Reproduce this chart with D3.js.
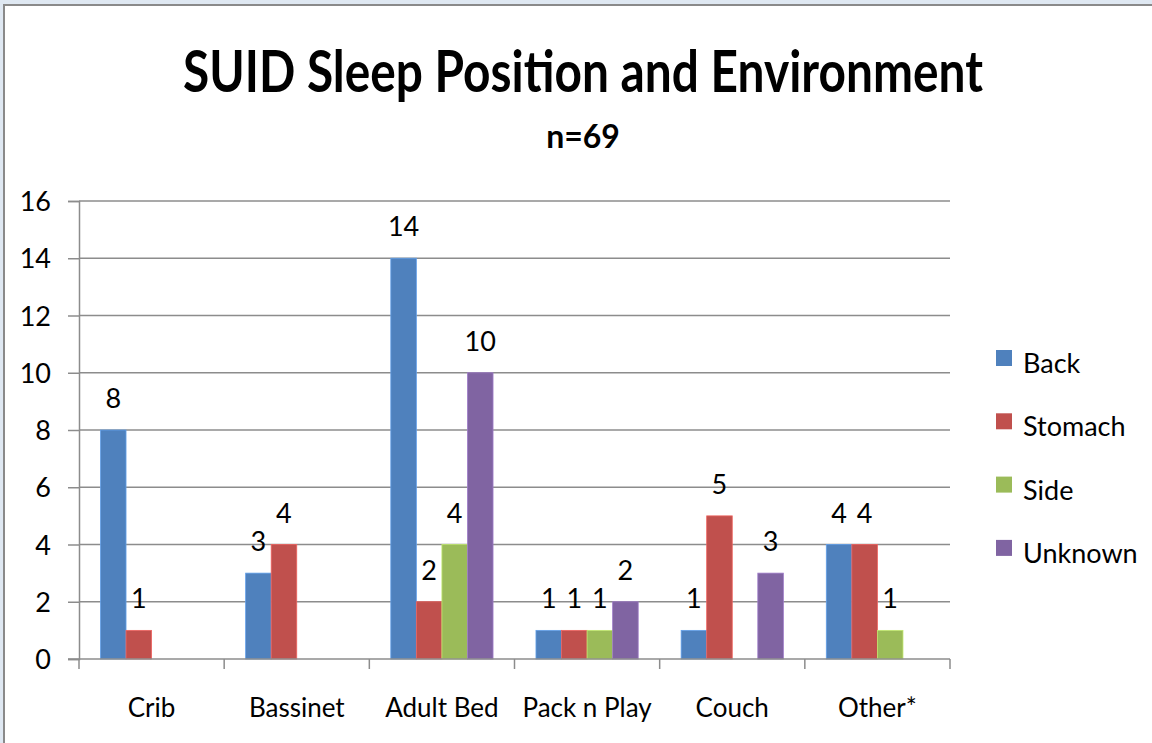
<!DOCTYPE html>
<html>
<head>
<meta charset="utf-8">
<script src="https://cdn.jsdelivr.net/npm/d3@7"></script>
<style>
  html, body { margin: 0; padding: 0; background: #dfe8f2; }
  svg { display: block; }
  text { font-family: Lato, "Noto Sans", sans-serif; fill: #000; }
</style>
</head>
<body>
<svg id="chart" width="1152" height="743"></svg>
<script>
const categories = ["Crib", "Bassinet", "Adult Bed", "Pack n Play", "Couch", "Other*"];
const seriesNames = ["Back", "Stomach", "Side", "Unknown"];
const back    = [8, 3, 14, 1, 1, 4];
const stomach = [1, 4, 2, 1, 5, 4];
const side    = [null, null, 4, 1, null, 1];
const unknown = [null, null, 10, 2, 3, null];
const yTicks = [0, 2, 4, 6, 8, 10, 12, 14, 16];
const colors = ["#4F81BD", "#C0504D", "#9BBB59", "#8064A2"];
const titleText = "SUID Sleep Position and Environment";
const subtitleText = "n=69";

const seriesValues = [back, stomach, side, unknown];
const svg = d3.select("#chart");

// chart area background + border
svg.append("rect").attr("x", 4).attr("y", 5).attr("width", 1160).attr("height", 760)
  .attr("fill", "#fff").attr("stroke", "#8a8a8a").attr("stroke-width", 2);

const plot = {left: 79, right: 950, top: 201, bottom: 659};

const x0 = d3.scaleBand().domain(categories).range([plot.left, plot.right]).paddingInner(0).paddingOuter(0);
const bw = x0.bandwidth();
const x1 = d3.scaleBand().domain(seriesNames).range([0, bw]).paddingInner(0).paddingOuter(0.84);
const y = d3.scaleLinear().domain([0, 16]).range([plot.bottom, plot.top]);

// gridlines
svg.append("g").selectAll("line").data(yTicks.filter(d => d > 0)).join("line")
  .attr("x1", plot.left).attr("x2", plot.right)
  .attr("y1", d => y(d)).attr("y2", d => y(d))
  .attr("stroke", "#8c8c8c").attr("stroke-width", 1.5);

// y axis
const yAxis = svg.append("g").attr("transform", `translate(${plot.left},0)`)
  .call(d3.axisLeft(y).tickValues(yTicks).tickSize(11).tickPadding(17));
yAxis.select(".domain").attr("stroke", "#8c8c8c").attr("stroke-width", 1.5);
yAxis.selectAll(".tick line").attr("stroke", "#8c8c8c").attr("stroke-width", 1.5);
yAxis.selectAll(".tick text").attr("font-size", 27).attr("font-family", "Lato").attr("dy", "0.36em").attr("fill", "#000");

// bars
const rows = categories.map((c, i) => ({cat: c, vals: seriesNames.map((s, j) => ({s, j, v: seriesValues[j][i]}))}));
const groups = svg.append("g").selectAll("g").data(rows).join("g")
  .attr("transform", d => `translate(${x0(d.cat)},0)`);
groups.selectAll("rect").data(d => d.vals.filter(v => v.v != null)).join("rect")
  .attr("x", d => x1(d.s)).attr("width", x1.bandwidth())
  .attr("y", d => y(d.v)).attr("height", d => y(0) - y(d.v))
  .attr("fill", d => colors[d.j])
  .attr("stroke", d => d3.color(colors[d.j]).brighter(0.6)).attr("stroke-width", 0.8);
groups.selectAll("text").data(d => d.vals.filter(v => v.v != null)).join("text")
  .attr("x", d => x1(d.s) + x1.bandwidth() / 2).attr("y", d => y(d.v) - 22)
  .attr("text-anchor", "middle").attr("font-size", 27)
  .text(d => d.v);

// x axis
const xAxis = svg.append("g").attr("transform", `translate(0,${plot.bottom})`);
xAxis.append("line").attr("x1", plot.left - 11).attr("x2", plot.right)
  .attr("stroke", "#8c8c8c").attr("stroke-width", 1.5);
const bounds = categories.map(c => x0(c)).concat([plot.right]);
xAxis.selectAll("line.tk").data(bounds).join("line").attr("class", "tk")
  .attr("x1", d => d).attr("x2", d => d).attr("y1", 0).attr("y2", 10)
  .attr("stroke", "#8c8c8c").attr("stroke-width", 1.5);
xAxis.selectAll("text").data(categories).join("text")
  .attr("x", d => x0(d) + bw / 2).attr("y", 58)
  .attr("text-anchor", "middle").attr("font-size", 26)
  .text(d => d);

// title
svg.append("text").attr("x", 583).attr("y", 92).attr("text-anchor", "middle")
  .attr("font-size", 58).attr("font-weight", "bold")
  .attr("textLength", 800).attr("lengthAdjust", "spacingAndGlyphs")
  .text(titleText);
svg.append("text").attr("x", 583).attr("y", 148).attr("text-anchor", "middle")
  .attr("font-size", 32).attr("font-weight", "bold")
  .text(subtitleText);

// legend
const legend = svg.append("g").selectAll("g").data(seriesNames).join("g")
  .attr("transform", (d, i) => `translate(996,${350 + i * 63.3})`);
legend.append("rect").attr("width", 16).attr("height", 16).attr("fill", (d, i) => colors[i]);
legend.append("text").attr("x", 27).attr("y", 23).attr("font-size", 27).text(d => d);
</script>
</body>
</html>
